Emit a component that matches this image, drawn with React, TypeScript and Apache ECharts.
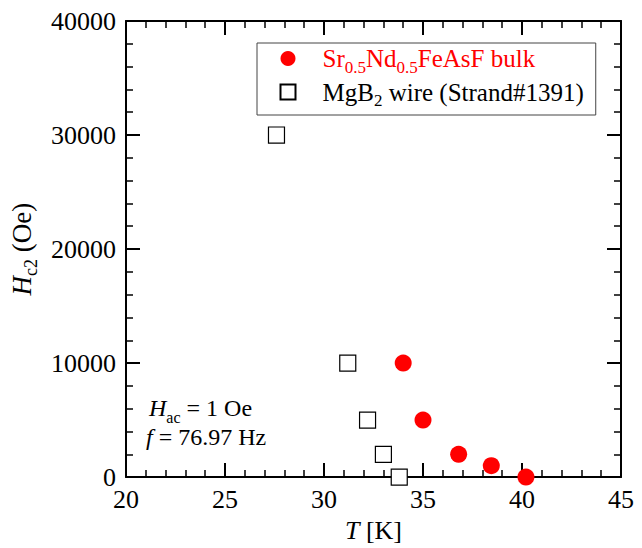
import React, { useEffect, useRef } from 'react';
import * as echarts from 'echarts';

// ---- data ----
const srNdName = 'Sr0.5Nd0.5FeAsF bulk';
const mgb2Name = 'MgB2 wire (Strand#1391)';
const srNdT = [34.0, 35.0, 36.8, 38.45, 40.2];
const srNdH = [10000, 5000, 2000, 1000, 0];
const mgb2T = [27.6, 31.2, 32.2, 33.0, 33.8];
const mgb2H = [30000, 10000, 5000, 2000, 0];
const xMin = 20;
const xMax = 45;
const xStep = 5;
const yMin = 0;
const yMax = 40000;
const yStep = 10000;

const FONT = '"Liberation Serif", "Times New Roman", serif';

export default function App() {
  const ref = useRef<HTMLDivElement>(null);

  useEffect(() => {
    if (!ref.current) return;
    const chart = echarts.init(ref.current, undefined, { renderer: 'svg' });

    const axisCommon = {
      type: 'value' as const,
      axisLine: { show: true, onZero: false, lineStyle: { color: '#000', width: 2 } },
      axisTick: { show: true, inside: true, length: 14, lineStyle: { color: '#000', width: 2 } },
      minorTick: { show: true, splitNumber: 5, length: 7, lineStyle: { color: '#000', width: 1.5 } },
      splitLine: { show: false },
      minorSplitLine: { show: false },
    };

    const labelStyle = { fontFamily: FONT, fontSize: 26, color: '#000' };

    // rich styles for legend
    const LF = 25;
    const LS = 17;
    const LP = 17;
    const legendRich = {
      pad: { width: 22, fontSize: LF, fontFamily: FONT },
      rn: { color: '#ff0000', fontSize: LF, fontFamily: FONT, verticalAlign: 'middle' },
      rs: { color: '#ff0000', fontSize: LS, fontFamily: FONT, verticalAlign: 'bottom', padding: [LP, 0, 0, 0] },
      kn: { color: '#000', fontSize: LF, fontFamily: FONT, verticalAlign: 'middle' },
      ks: { color: '#000', fontSize: LS, fontFamily: FONT, verticalAlign: 'bottom', padding: [LP, 0, 0, 0] },
    };

    const AF = 24;
    const AS = 16;
    const AP = 18;
    const annoRich = {
      i: { fill: '#000', fontSize: AF, fontFamily: FONT, fontStyle: 'italic', verticalAlign: 'middle' },
      n: { fill: '#000', fontSize: AF, fontFamily: FONT, verticalAlign: 'middle' },
      s: { fill: '#000', fontSize: AS, fontFamily: FONT, verticalAlign: 'bottom', padding: [AP, 0, 0, 0] },
    };

    const option: any = {
      animation: false,
      backgroundColor: '#fff',
      grid: { left: 126, top: 21, width: 495, height: 459, containLabel: false },
      xAxis: [
        {
          ...axisCommon,
          position: 'bottom',
          min: xMin,
          max: xMax,
          interval: xStep,
          axisLabel: { ...labelStyle, margin: 9 },
          name: '{i|T}{n| [K]}',
          nameLocation: 'middle',
          nameGap: 25,
          nameTextStyle: {
            fontSize: 26,
            fontFamily: FONT,
            rich: {
              i: { fontFamily: FONT, fontSize: 26, fontStyle: 'italic', color: '#000' },
              n: { fontFamily: FONT, fontSize: 26, color: '#000' },
            },
          },
        },
        {
          ...axisCommon,
          position: 'top',
          min: xMin,
          max: xMax,
          interval: xStep,
          axisLabel: { show: false },
        },
      ],
      yAxis: [
        {
          ...axisCommon,
          position: 'left',
          min: yMin,
          max: yMax,
          interval: yStep,
          axisLabel: { ...labelStyle, margin: 10, formatter: (v: number) => String(v) },
          name: '{i|H}{s|c2}{n| (Oe)}',
          nameLocation: 'middle',
          nameGap: 78,
          nameTextStyle: {
            fontSize: 27,
            fontFamily: FONT,
            rich: {
              i: { fontFamily: FONT, fontSize: 27, fontStyle: 'italic', color: '#000', verticalAlign: 'middle' },
              n: { fontFamily: FONT, fontSize: 27, color: '#000', verticalAlign: 'middle' },
              s: { fontFamily: FONT, fontSize: 18, color: '#000', verticalAlign: 'bottom', padding: [18, 0, 0, 0] },
            },
          },
        },
        {
          ...axisCommon,
          position: 'right',
          min: yMin,
          max: yMax,
          interval: yStep,
          axisLabel: { show: false },
        },
      ],
      legend: {
        orient: 'vertical',
        left: 257,
        top: 43,
        padding: [3, 12, 6, 22.5],
        itemWidth: 15,
        itemHeight: 15,
        itemGap: 4,
        borderColor: '#444',
        borderWidth: 1,
        selectedMode: false,
        data: [srNdName, mgb2Name],
        formatter: (name: string) =>
          name === srNdName
            ? '{pad| }{rn|Sr}{rs|0.5}{rn|Nd}{rs|0.5}{rn|FeAsF bulk}'
            : '{pad| }{kn|MgB}{ks|2}{kn| wire (Strand#1391)}',
        textStyle: { fontFamily: FONT, fontSize: LF, rich: legendRich },
      },
      graphic: [
        {
          type: 'text',
          x: 149,
          y: 408,
          style: {
            text: '{i|H}{s|ac}{n| = 1 Oe}',
            rich: annoRich,
            verticalAlign: 'middle',
            align: 'left',
          },
        },
        {
          type: 'text',
          x: 146,
          y: 437,
          style: {
            text: '{i|f}{n| = 76.97 Hz}',
            rich: annoRich,
            verticalAlign: 'middle',
            align: 'left',
          },
        },
      ],
      series: [
        {
          name: srNdName,
          type: 'scatter',
          xAxisIndex: 0,
          yAxisIndex: 0,
          symbol: 'circle',
          symbolSize: 17,
          clip: false,
          itemStyle: { color: '#ff0000', opacity: 1 },
          data: srNdT.map((t, i) => [t, srNdH[i]]),
          z: 5,
        },
        {
          name: mgb2Name,
          type: 'scatter',
          xAxisIndex: 0,
          yAxisIndex: 0,
          symbol: 'rect',
          symbolSize: 16,
          clip: false,
          itemStyle: { color: '#ffffff', borderColor: '#000', borderWidth: 1.2, opacity: 1 },
          data: mgb2T.map((t, i) => [t, mgb2H[i]]),
          z: 5,
        },
      ],
    };

    chart.setOption(option);
    return () => chart.dispose();
  }, []);

  return (
    <div
      ref={ref}
      style={{ position: 'fixed', left: 0, top: 0, width: 642, height: 548, background: '#fff' }}
    />
  );
}
